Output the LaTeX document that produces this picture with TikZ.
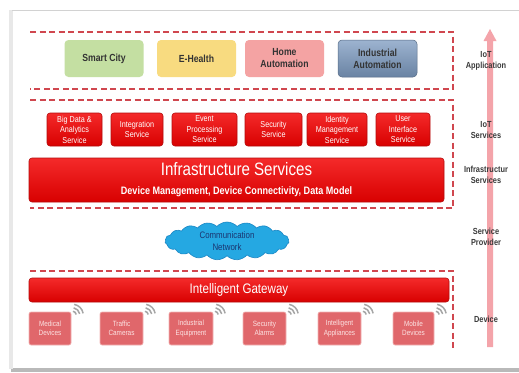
\documentclass[tikz,border=0pt]{standalone}
\usepackage{fontspec}
\setmainfont{Liberation Sans}
\newfontfamily\narrow[FakeStretch=0.84]{Liberation Sans}
\usetikzlibrary{shapes.symbols}
\definecolor{dashred}{HTML}{D0474F}
\definecolor{cgreen}{HTML}{C4DFA2}
\definecolor{cyellow}{HTML}{F8DB80}
\definecolor{cpink}{HTML}{F4A3A3}
\definecolor{cblue}{HTML}{7C9AC0}
\definecolor{redtop}{HTML}{F42A2A}
\definecolor{redbot}{HTML}{D80000}
\definecolor{redline}{HTML}{B40C0C}
\definecolor{devfill}{HTML}{E0676B}
\definecolor{devline}{HTML}{F2B5B5}
\definecolor{devtext}{HTML}{FCE4E4}
\definecolor{cloudfill}{HTML}{25A8E2}
\definecolor{cloudline}{HTML}{1A86C4}
\definecolor{cloudtext}{HTML}{1B3570}
\definecolor{arrowpink}{HTML}{F4A4AA}
\definecolor{labtext}{HTML}{3A3A3A}
\begin{document}
\begin{tikzpicture}[x=1pt,y=-1pt,
  dashline/.style={draw=dashred, line width=2.4pt, dash pattern=on 6pt off 3.5pt},
  appbox/.style={rounded corners=4pt, minimum width=79pt, minimum height=37pt, inner sep=1pt,
     align=center, text=black!80, font=\narrow\bfseries\fontsize{10.3}{12}\selectfont},
  svcbox/.style={draw=redline, line width=0.6pt, rounded corners=3pt, top color=redtop, bottom color=redbot,
     minimum height=33pt, inner sep=0pt, align=center, text=white, font=\narrow\fontsize{8.6}{10.5}\selectfont},
  barbox/.style={draw=redline, line width=0.6pt, rounded corners=3pt, top color=redtop, bottom color=redbot,
     inner sep=0pt, text=white},
  devbox/.style={draw=devline, line width=0.6pt, rounded corners=2pt, fill=devfill, minimum height=33pt,
     inner sep=0pt, align=center, text=devtext, font=\narrow\fontsize{7.6}{9.5}\selectfont},
  sidelab/.style={align=center, text=labtext, font=\narrow\bfseries\fontsize{8.8}{11}\selectfont, inner sep=0pt},
  wifi/.style={draw=gray!70, line width=1.5pt}]
\useasboundingbox (0,0) rectangle (519,372);
\fill[white] (0,0) rectangle (519,372);
% frame
\fill[gray!55] (11,368) rectangle (519,372);
\fill[gray!18] (9,10) rectangle (13,369);
\fill[white] (13,10) rectangle (519,368);
\draw[gray!35, line width=0.8pt] (12,10) -- (519,10);
% side arrow
\fill[arrowpink] (487,347) -- (487,41) -- (483.5,41) -- (490,29) -- (496.5,41) -- (493,41) -- (493,347) -- cycle;
% dashed frames
\draw[dashline] (30,32) -- (453,32) -- (453,89) -- (30,89);
\draw[dashline] (30,100) -- (453,100) -- (453,208) -- (30,208);
\draw[dashline] (30,271) -- (453,271) -- (453,350);
% applications
\node[appbox, fill=cgreen] (a1) at (104,58.5) {Smart City};
\node[appbox, fill=cyellow] (a2) at (196.5,58.5) {E-Health};
\node[appbox, fill=cpink] (a3) at (284.5,58.5) {Home\\Automation};
\node[appbox, top color=cblue!75!white, bottom color=cblue!85!black, draw=cblue!70!black, line width=0.5pt] (a4) at (377.5,58.5) {Industrial\\Automation};
% services
\node[svcbox, minimum width=55pt] (s1) at (74.5,129.5) {Big Data \&\\Analytics\\Service};
\node[svcbox, minimum width=52pt] (s2) at (137,129.5) {Integration\\Service};
\node[svcbox, minimum width=65pt] (s3) at (204.5,129.5) {Event\\Processing\\Service};
\node[svcbox, minimum width=57pt] (s4) at (273.5,129.5) {Security\\Service};
\node[svcbox, minimum width=60pt] (s5) at (337,129.5) {Identity\\Management\\Service};
\node[svcbox, minimum width=54pt] (s6) at (403,129.5) {User\\Interface\\Service};
% infrastructure bar
\node[barbox, minimum width=415pt, minimum height=44pt] (infra) at (236.5,180) {};
\node[text=white, font=\narrow\fontsize{18}{20}\selectfont, inner sep=0pt] (infratitle) at (236.5,169.5) {Infrastructure Services};
\node[text=white, font=\narrow\bfseries\fontsize{10.8}{12}\selectfont, inner sep=0pt] (infrasub) at (236.5,191.5) {Device Management, Device Connectivity, Data Model};
% cloud
\node[cloud, cloud puffs=19, cloud puff arc=95, aspect=3.4, fill=cloudfill, draw=cloudline, line width=0.6pt,
  minimum width=124pt, minimum height=38pt, inner sep=0pt, align=center, text=cloudtext,
  font=\narrow\fontsize{9.4}{11.5}\selectfont] (cloud) at (227,241) {Communication\\Network};
% gateway
\node[barbox, minimum width=420pt, minimum height=24pt, font=\narrow\fontsize{13.8}{15}\selectfont] (gw) at (239,290) {Intelligent Gateway};
% devices
\node[devbox, minimum width=42pt] (d1) at (50,328.5) {Medical\\Devices};
\node[devbox, minimum width=43pt] (d2) at (121.5,328.5) {Traffic\\Cameras};
\node[devbox, minimum width=44pt] (d3) at (191,328.5) {Industrial\\Equipment};
\node[devbox, minimum width=43pt] (d4) at (264.5,328.5) {Security\\Alarms};
\node[devbox, minimum width=43pt] (d5) at (339.5,328.5) {Intelligent\\Appliances};
\node[devbox, minimum width=41pt] (d6) at (413.5,328.5) {Mobile\\Devices};
\foreach \d in {d1,d2,d3,d4,d5,d6}{
  \coordinate (wc) at ([shift={(1,3.5)}]\d.north east);
  \draw[wifi] ([shift={(-80:4)}]wc) arc[start angle=-80, end angle=-10, radius=4];
  \draw[wifi] ([shift={(-80:7.5)}]wc) arc[start angle=-80, end angle=-10, radius=7.5];
  \draw[wifi] ([shift={(-80:11)}]wc) arc[start angle=-80, end angle=-10, radius=11];
}
% side labels
\node[sidelab] (l1) at (486,61) {IoT\\Application};
\node[sidelab] (l2) at (486,130) {IoT\\Services};
\node[sidelab] (l3) at (486,174.5) {Infrastructur\\Services};
\node[sidelab] (l4) at (486,237) {Service\\Provider};
\node[sidelab] (l5) at (486,319) {Device};
\end{tikzpicture}
\end{document}
